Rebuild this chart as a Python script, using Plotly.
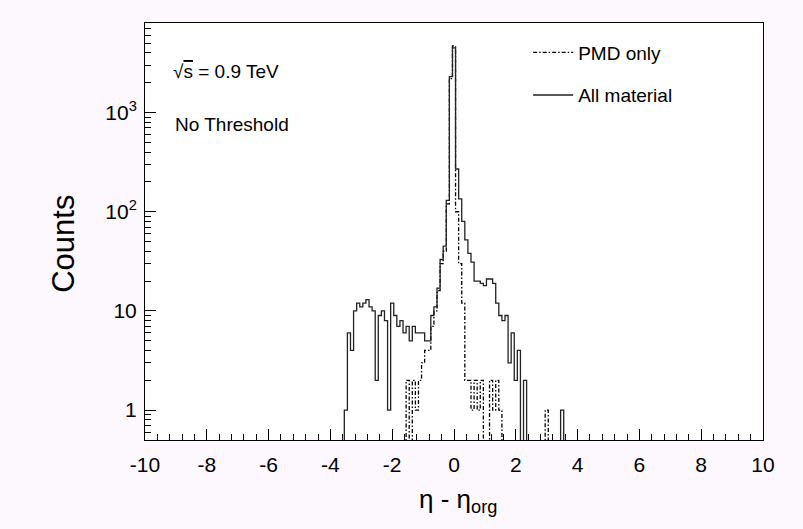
import numpy as np
import plotly.graph_objects as go

# Histogram binning: 0.1-wide bins, first bin centred at -3.5
bin_width = 0.1
first_center = -3.5

# Counts per bin, "All material" (solid)
all_material = [
    1, 6, 4, 10, 12, 11, 12, 13, 11, 10,      # -3.5 .. -2.6
    2, 9, 10, 8, 1, 12, 9, 7, 8, 6,           # -2.5 .. -1.6
    7, 5, 7, 6, 6, 6, 5, 5, 9, 11,            # -1.5 .. -0.6
    17, 33, 45, 130, 2300, 4500, 270, 135, 80, 52,   # -0.5 .. 0.4
    38, 31, 20, 20, 19, 18, 21, 21, 19, 12,   # 0.5 .. 1.4
    9, 8, 9, 3, 6, 2, 4, 0, 2, 0,             # 1.5 .. 2.4
    0, 0, 0, 0, 0, 0, 0, 0, 0, 0,             # 2.5 .. 3.4
    1,                                        # 3.5
]

# Counts per bin, "PMD only" (dash-dotted)
pmd_only = [
    0, 0, 0, 0, 0, 0, 0, 0, 0, 0,             # -3.5 .. -2.6
    0, 0, 0, 0, 0, 0, 0, 0, 0, 0,             # -2.5 .. -1.6
    2, 0, 2, 1, 2, 3, 4, 4, 7, 10,            # -1.5 .. -0.6
    16, 30, 40, 120, 2200, 4700, 100, 30, 12, 2,     # -0.5 .. 0.4
    2, 1, 2, 1, 2, 0, 0, 2, 1, 2,             # 0.5 .. 1.4
    1, 0, 0, 0, 0, 0, 0, 0, 0, 0,             # 1.5 .. 2.4
    0, 0, 0, 0, 0, 1, 0, 0, 0, 0,             # 2.5 .. 3.4
    0,                                        # 3.5
]

x_ticks = list(range(-10, 11, 2))
x_ticktext = [str(v) for v in x_ticks]   # plain hyphen-minus labels
y_ticks = [1, 10, 100, 1000]
y_ticktext = ["1", "10", "10<sup>2</sup>", "10<sup>3</sup>"]

Y_MIN, Y_MAX = 0.5, 8000
FLOOR = 1e-3  # empty bins are drawn below the frame, like ROOT does


def step_xy(counts):
    counts = np.asarray(counts, dtype=float)
    lo = first_center - bin_width / 2 + bin_width * np.arange(len(counts))
    hi = lo[-1] + bin_width
    vals = np.where(counts > 0, counts, FLOOR)
    xs = np.concatenate([[lo[0]], lo, [hi, hi]])
    ys = np.concatenate([[FLOOR], vals, [vals[-1], FLOOR]])
    return xs, ys


fig = go.Figure()

xp, yp = step_xy(pmd_only)
fig.add_trace(go.Scatter(
    x=xp, y=yp, mode="lines", line_shape="hv", name="PMD only",
    line=dict(color="black", width=1.3, dash="4px,2px,1.5px,2px"),
    legendgroup="a",
))
xa, ya = step_xy(all_material)
fig.add_trace(go.Scatter(
    x=xa, y=ya, mode="lines", line_shape="hv", name="All material",
    line=dict(color="#222222", width=1.3),
    legendgroup="b",
))

minor_y = []
for dec in [0.1, 1, 10, 100, 1000]:
    for m in range(2, 10):
        v = m * dec
        if Y_MIN < v < Y_MAX and v not in y_ticks:
            minor_y.append(v)

font_main = "Liberation Sans, Arial, Helvetica, sans-serif"

fig.update_xaxes(
    range=[-10, 10], tickvals=x_ticks, ticktext=x_ticktext,
    ticks="inside", ticklen=11, tickwidth=1, tickcolor="black",
    minor=dict(dtick=0.4, tick0=-10, ticks="inside", ticklen=6, tickcolor="black"),
    showline=True, linecolor="black", linewidth=1, mirror=True,
    showgrid=False, zeroline=False, ticklabelstandoff=6,
    tickfont=dict(size=21, color="black"),
)
fig.update_yaxes(
    type="log", range=[np.log10(Y_MIN), np.log10(Y_MAX)],
    tickvals=y_ticks, ticktext=y_ticktext, ticks="inside", ticklen=11,
    tickwidth=1, tickcolor="black",
    minor=dict(tickmode="array", tickvals=minor_y, ticks="inside", ticklen=6, tickcolor="black"),
    showline=True, linecolor="black", linewidth=1, mirror=True,
    showgrid=False, zeroline=False, ticklabelstandoff=3,
    tickfont=dict(size=21, color="black"),
)

# Axis titles
fig.add_annotation(
    x=0.5, y=-0.145, xref="paper", yref="paper", xanchor="center", yanchor="middle",
    text="η - η<sub>org</sub>", showarrow=False, font=dict(size=26, color="black"),
    xshift=4,
)
fig.add_annotation(
    x=-0.133, y=0.47, xref="paper", yref="paper", xanchor="center", yanchor="middle",
    text="Counts", textangle=-90, showarrow=False, font=dict(size=31, color="black"),
)

# Labels inside the frame
fig.add_annotation(
    x=0.042, y=0.883, xref="paper", yref="paper", xanchor="left", yanchor="middle",
    text="√<span style='text-decoration:overline'>s</span> = 0.9 TeV",
    showarrow=False, font=dict(size=19, color="black"),
)
fig.add_annotation(
    x=0.045, y=0.757, xref="paper", yref="paper", xanchor="left", yanchor="middle",
    text="No Threshold", showarrow=False, font=dict(size=19, color="black"),
)

fig.update_layout(
    width=803, height=529,
    margin=dict(l=145, r=40, t=23, b=89),
    paper_bgcolor="#fdf8fd", plot_bgcolor="white",
    font=dict(family=font_main, color="black"),
    showlegend=True,
    legend=dict(
        x=0.62, y=0.975, xanchor="left", yanchor="top",
        bgcolor="rgba(0,0,0,0)", font=dict(size=19, color="black"),
        tracegroupgap=15, traceorder="grouped", itemwidth=40,
    ),
)

fig.write_html("out.html")
